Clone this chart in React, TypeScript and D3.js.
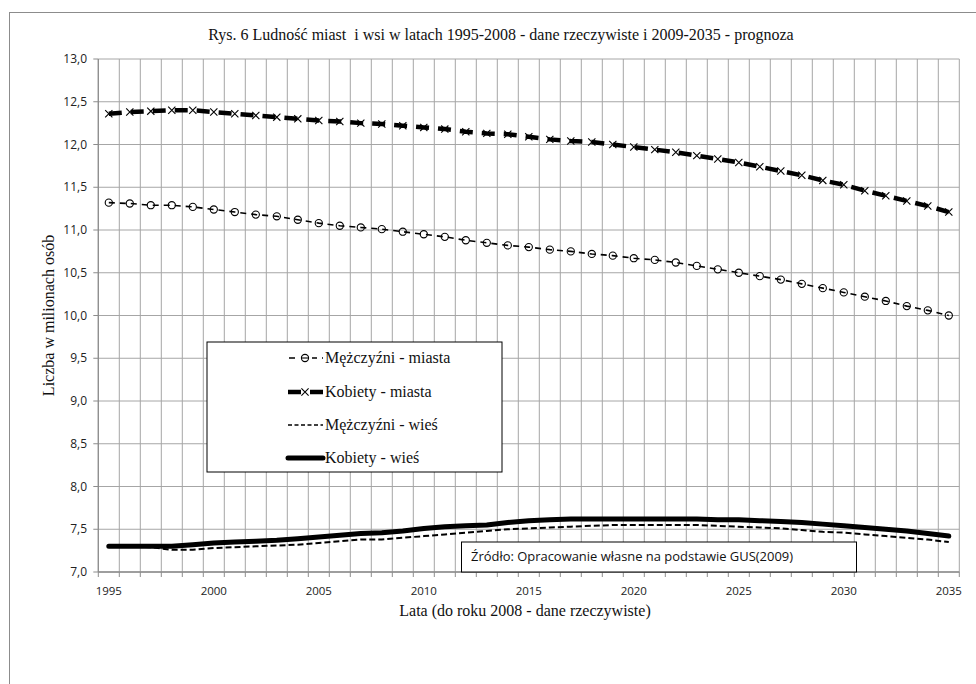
import React from 'react';
import * as d3 from 'd3';

const years = [1995, 1996, 1997, 1998, 1999, 2000, 2001, 2002, 2003, 2004, 2005, 2006, 2007, 2008, 2009, 2010, 2011, 2012, 2013, 2014, 2015, 2016, 2017, 2018, 2019, 2020, 2021, 2022, 2023, 2024, 2025, 2026, 2027, 2028, 2029, 2030, 2031, 2032, 2033, 2034, 2035];
const xTickYears = [1995, 2000, 2005, 2010, 2015, 2020, 2025, 2030, 2035];
const yTicks = [7, 7.5, 8, 8.5, 9, 9.5, 10, 10.5, 11, 11.5, 12, 12.5, 13];

const menCity = [11.32, 11.31, 11.29, 11.29, 11.27, 11.24, 11.21, 11.18, 11.16, 11.12, 11.08, 11.05, 11.03, 11.01, 10.98, 10.95, 10.92, 10.88, 10.85, 10.82, 10.80, 10.77, 10.75, 10.72, 10.70, 10.67, 10.65, 10.62, 10.58, 10.54, 10.50, 10.46, 10.42, 10.37, 10.32, 10.27, 10.22, 10.17, 10.11, 10.06, 10.00];
const womenCity = [12.36, 12.38, 12.39, 12.40, 12.40, 12.38, 12.36, 12.34, 12.32, 12.30, 12.28, 12.27, 12.25, 12.24, 12.22, 12.20, 12.18, 12.15, 12.13, 12.12, 12.09, 12.06, 12.04, 12.03, 12.00, 11.97, 11.94, 11.91, 11.87, 11.83, 11.79, 11.74, 11.69, 11.64, 11.58, 11.53, 11.46, 11.40, 11.34, 11.28, 11.21];
const menRural = [7.30, 7.30, 7.29, 7.26, 7.26, 7.28, 7.29, 7.30, 7.31, 7.32, 7.34, 7.36, 7.38, 7.38, 7.40, 7.42, 7.44, 7.46, 7.48, 7.50, 7.51, 7.52, 7.53, 7.54, 7.55, 7.55, 7.55, 7.55, 7.55, 7.54, 7.53, 7.52, 7.51, 7.49, 7.47, 7.46, 7.44, 7.42, 7.40, 7.38, 7.35];
const womenRural = [7.30, 7.30, 7.30, 7.30, 7.32, 7.34, 7.35, 7.36, 7.37, 7.39, 7.41, 7.43, 7.45, 7.46, 7.48, 7.51, 7.53, 7.54, 7.55, 7.58, 7.60, 7.61, 7.62, 7.62, 7.62, 7.62, 7.62, 7.62, 7.62, 7.61, 7.61, 7.60, 7.59, 7.58, 7.56, 7.54, 7.52, 7.50, 7.48, 7.45, 7.42];

const legendLabels = ['Mężczyźni - miasta', 'Kobiety - miasta', 'Mężczyźni - wieś', 'Kobiety - wieś'];
const titleText = 'Rys. 6 Ludność miast\u00a0 i wsi w latach 1995-2008 - dane rzeczywiste i 2009-2035 - prognoza';
const yTitle = 'Liczba w milionach osób';
const xTitle = 'Lata (do roku 2008 - dane rzeczywiste)';
const sourceText = 'Źródło: Opracowanie własne na podstawie GUS(2009)';

const W = 976;
const H = 684;
const plot = { left: 98.3, right: 959.3, top: 59, bottom: 572 };

const serif = '"Liberation Serif", "Times New Roman", serif';
const sans = '"Open Sans", "Liberation Sans", sans-serif';

export default function App() {
  const x = d3.scaleBand<number>().domain(years).range([plot.left, plot.right]).paddingInner(0).paddingOuter(0);
  const bw = x.bandwidth();
  const cx = (yr: number) => (x(yr) as number) + bw / 2;
  const y = d3.scaleLinear().domain([7, 13]).range([plot.bottom, plot.top]);

  const line = d3.line<number>().x((_, i) => cx(years[i])).y((v) => y(v));

  const boundaries = years.map((yr) => x(yr) as number).concat([plot.right]);
  const grid = '#a6a6a6';

  const fmt = (v: number) => v.toFixed(1).replace('.', ',');

  const legend = { x: 207, y: 342, w: 295, h: 130 };
  const rowY = [358, 392, 425, 458];
  const lx0 = 288;
  const lx1 = 323;

  return (
    <svg width={W} height={H} style={{ position: 'absolute', left: 0, top: 0, background: '#fff' }}>
      <rect x={0} y={0} width={W} height={H} fill="#fff" />
      <rect x={9.5} y={12.5} width={W + 20} height={H + 20} fill="#fff" stroke="#8c8c8c" strokeWidth={1} />

      {/* gridlines */}
      {yTicks.map((t) => (
        <line key={'h' + t} x1={plot.left} x2={plot.right} y1={y(t)} y2={y(t)} stroke={grid} strokeWidth={1} />
      ))}
      {boundaries.map((b, i) => (
        <line key={'v' + i} x1={b} x2={b} y1={plot.top} y2={plot.bottom} stroke={grid} strokeWidth={1} />
      ))}

      {/* axes */}
      <line x1={plot.left} x2={plot.left} y1={plot.top} y2={plot.bottom} stroke="#8c8c8c" strokeWidth={1.2} />
      <line x1={plot.left} x2={plot.right} y1={plot.bottom} y2={plot.bottom} stroke="#8c8c8c" strokeWidth={1.6} />
      {yTicks.map((t) => (
        <g key={'yt' + t}>
          <line x1={plot.left - 5} x2={plot.left} y1={y(t)} y2={y(t)} stroke="#8c8c8c" strokeWidth={1} />
          <text x={87} y={y(t)} dy="0.35em" textAnchor="end" fontFamily={sans} fontSize={12} fill="#222">
            {fmt(t)}
          </text>
        </g>
      ))}
      {boundaries.map((b, i) => (
        <line key={'xt' + i} x1={b} x2={b} y1={plot.bottom} y2={plot.bottom + 5} stroke="#8c8c8c" strokeWidth={1} />
      ))}
      {xTickYears.map((yr) => (
        <text key={'xl' + yr} x={cx(yr)} y={595} textAnchor="middle" fontFamily={sans} fontSize={11.5} fill="#222">
          {yr}
        </text>
      ))}

      {/* titles */}
      <text x={501} y={40} textAnchor="middle" fontFamily={serif} fontSize={16} fill="#111">
        {titleText}
      </text>
      <text
        transform={`translate(54, ${(plot.top + plot.bottom) / 2}) rotate(-90)`}
        textAnchor="middle"
        fontFamily={serif}
        fontSize={16}
        fill="#111"
      >
        {yTitle}
      </text>
      <text x={525} y={616} textAnchor="middle" fontFamily={serif} fontSize={16} fill="#111">
        {xTitle}
      </text>

      {/* series: rural */}
      <path d={line(menRural) || ''} fill="none" stroke="#000" strokeWidth={2} strokeDasharray="6,3" />
      <path d={line(womenRural) || ''} fill="none" stroke="#000" strokeWidth={5} strokeLinejoin="round" strokeLinecap="round" />

      {/* series: city */}
      <path d={line(menCity) || ''} fill="none" stroke="#000" strokeWidth={1.6} strokeDasharray="6,5" />
      {menCity.map((v, i) => (
        <circle key={'mc' + i} cx={cx(years[i])} cy={y(v)} r={3.6} fill="none" stroke="#000" strokeWidth={1.1} />
      ))}
      <path d={line(womenCity) || ''} fill="none" stroke="#000" strokeWidth={4.5} strokeDasharray="13,9" />
      {womenCity.map((v, i) => {
        const px = cx(years[i]);
        const py = y(v);
        const s = 3.6;
        return (
          <path
            key={'wc' + i}
            d={`M${px - s},${py - s}L${px + s},${py + s}M${px - s},${py + s}L${px + s},${py - s}`}
            stroke="#000"
            strokeWidth={1.1}
            fill="none"
          />
        );
      })}

      {/* legend */}
      <rect x={legend.x} y={legend.y} width={legend.w} height={legend.h} fill="#fff" stroke="#000" strokeWidth={1} />
      <line x1={lx0} x2={lx1} y1={rowY[0]} y2={rowY[0]} stroke="#000" strokeWidth={1.6} strokeDasharray="6,5" strokeDashoffset={-1} />
      <rect x={298} y={rowY[0] - 5} width={14} height={10} fill="#fff" />
      <circle cx={305} cy={rowY[0]} r={3.6} fill="#fff" stroke="#000" strokeWidth={1.1} />
      <line x1={305 - 3.6} x2={305 + 3.6} y1={rowY[0]} y2={rowY[0]} stroke="#000" strokeWidth={1.1} />

      <line x1={lx0} x2={lx1} y1={rowY[1]} y2={rowY[1]} stroke="#000" strokeWidth={4.5} strokeDasharray="13,9" />
      <path
        d={`M${305 - 3.6},${rowY[1] - 3.6}L${305 + 3.6},${rowY[1] + 3.6}M${305 - 3.6},${rowY[1] + 3.6}L${305 + 3.6},${rowY[1] - 3.6}`}
        stroke="#000"
        strokeWidth={1.1}
      />

      <line x1={lx0} x2={lx1} y1={rowY[2]} y2={rowY[2]} stroke="#000" strokeWidth={1.6} strokeDasharray="4,2.5" />
      <line x1={lx0} x2={lx1} y1={rowY[3]} y2={rowY[3]} stroke="#000" strokeWidth={5} strokeLinecap="round" />

      {legendLabels.map((l, i) => (
        <text key={'lg' + i} x={325} y={rowY[i]} dy="0.33em" fontFamily={serif} fontSize={16} fill="#111">
          {l}
        </text>
      ))}

      {/* source box */}
      <rect x={461.5} y={542} width={395} height={30} fill="#fff" stroke="#000" strokeWidth={1} />
      <text x={471} y={557} dy="0.35em" fontFamily={sans} fontSize={12.5} fill="#111" textLength={322} lengthAdjust="spacingAndGlyphs">
        {sourceText}
      </text>
    </svg>
  );
}
